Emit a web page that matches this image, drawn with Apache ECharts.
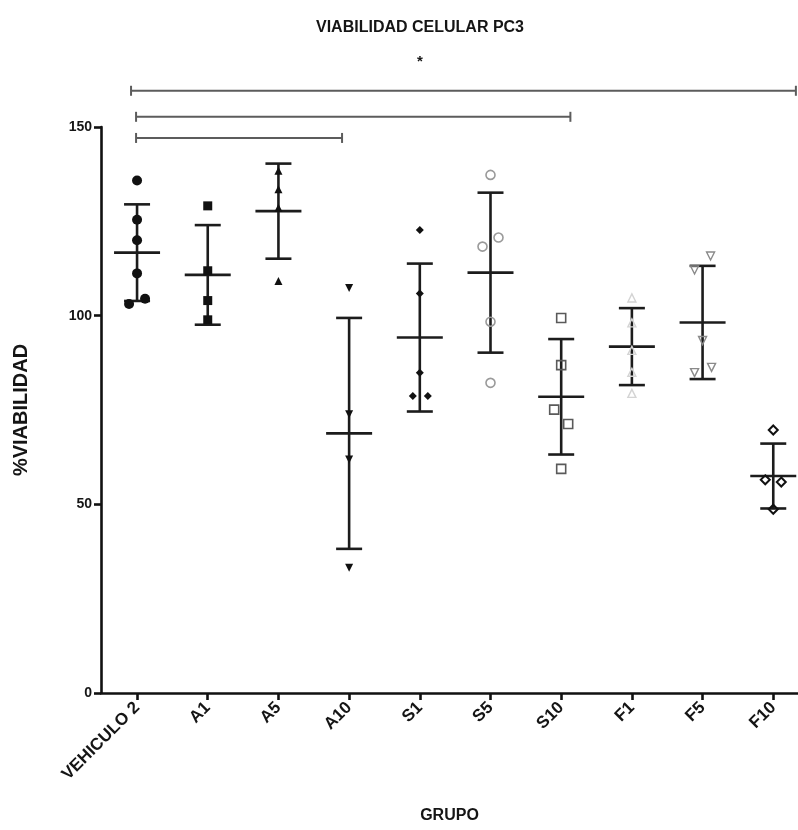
<!DOCTYPE html>
<html>
<head>
<meta charset="utf-8">
<script src="https://cdn.jsdelivr.net/npm/echarts@6/dist/echarts.min.js"></script>
<style>
  html, body { margin: 0; padding: 0; background: #ffffff; }
  #chart { width: 798px; height: 830px; }
</style>
</head>
<body>
<div id="chart"></div>
<script>
// Treatment groups on the x axis
const groups = ['VEHICULO 2', 'A1', 'A5', 'A10', 'S1', 'S5', 'S10', 'F1', 'F5', 'F10'];

// Individual % viability replicates per group
const vehiculo2 = [135.8, 125.4, 120.0, 111.2, 104.5, 103.1];
const a1 = [129.1, 111.9, 104.0, 98.9];
const a5 = [138.4, 133.5, 128.6, 109.2];
const a10 = [107.3, 73.9, 61.9, 33.2];
const s1 = [122.7, 105.9, 84.9, 78.7, 78.7];
const s5 = [137.3, 120.7, 118.3, 98.4, 82.2];
const s10 = [99.4, 86.9, 75.1, 71.3, 59.4];
const f1 = [104.7, 98.1, 90.8, 85.0, 79.4];
const f5 = [115.8, 112.1, 93.4, 86.3, 84.9];
const f10 = [69.7, 56.5, 55.9, 48.7];
const replicates = [vehiculo2, a1, a5, a10, s1, s5, s10, f1, f5, f10];

// Group mean and standard deviation (error bars)
const groupMean = [116.7, 110.8, 127.7, 68.8, 94.2, 111.4, 78.5, 91.8, 98.2, 57.5];
const groupSD = [12.8, 13.2, 12.6, 30.6, 19.6, 21.2, 15.3, 10.2, 15.0, 8.6];

// Y axis ticks
const yTicks = [0, 50, 100, 150];

// Comparison brackets: [from, to, level]
const bracketFrom = [-0.085, -0.014, -0.014];
const bracketTo = [9.32, 6.13, 2.90];
const bracketLevel = [159.6, 152.7, 147.1];
const significanceMark = '*';

// Horizontal nudges (px) so overlapping replicates stay visible
const nudges = [
  [0, 0, 0, 0, 8, -8],
  [0, 0, 0, 0],
  [0, 0, 0, 0],
  [0, 0, 0, 0],
  [0, 0, 0, -7, 8],
  [0, 8, -8, 0, 0],
  [0, 0, -7, 7, 0],
  [0, 0, 0, 0, 0],
  [8, -8, 0, 9, -8],
  [0, -8, 8, 0]
];

// Marker look for each group
const markerStyles = [
  { symbol: 'circle', size: 10, fill: '#111', stroke: '#111', lw: 0 },
  { symbol: 'rect', size: 9, fill: '#111', stroke: '#111', lw: 0 },
  { symbol: 'triangle', size: 8, fill: '#111', stroke: '#111', lw: 0 },
  { symbol: 'triangle', size: 8, fill: '#111', stroke: '#111', lw: 0, rotate: 180 },
  { symbol: 'diamond', size: 8, fill: '#111', stroke: '#111', lw: 0 },
  { symbol: 'circle', size: 9, fill: 'rgba(0,0,0,0)', stroke: '#9a9a9a', lw: 1.6 },
  { symbol: 'rect', size: 9, fill: 'rgba(0,0,0,0)', stroke: '#5a5a5a', lw: 1.6 },
  { symbol: 'triangle', size: 8, fill: 'rgba(0,0,0,0)', stroke: '#d4d4d4', lw: 1.4 },
  { symbol: 'triangle', size: 8, fill: 'rgba(0,0,0,0)', stroke: '#8a8a8a', lw: 1.4, rotate: 180 },
  { symbol: 'diamond', size: 9, fill: 'rgba(0,0,0,0)', stroke: '#111', lw: 2 }
];

const FONT = '"Liberation Sans", Arial, Helvetica, sans-serif';
const INK = '#151515';
const groupIdx = groups.map((g, i) => i);

const chart = echarts.init(document.getElementById('chart'), null, { renderer: 'canvas' });

const scatterSeries = replicates.map((vals, i) => {
  const st = markerStyles[i];
  return {
    type: 'scatter',
    name: groups[i],
    z: 4,
    symbol: st.symbol,
    symbolSize: st.size,
    symbolRotate: st.rotate || 0,
    itemStyle: { color: st.fill, borderColor: st.stroke, borderWidth: st.lw, opacity: 1 },
    emphasis: { disabled: true },
    data: vals.map((v, k) => ({ value: [i, v], symbolOffset: [nudges[i][k] || 0, 0] }))
  };
});

const errorSeries = {
  type: 'custom',
  name: 'media ± DE',
  z: 3,
  data: groupMean.map((m, i) => [i, m, groupSD[i]]),
  renderItem: function (params, api) {
    const x = api.value(0), m = api.value(1), s = api.value(2);
    const pm = api.coord([x, m]);
    const pt = api.coord([x, m + s]);
    const pb = api.coord([x, m - s]);
    const st = { stroke: '#1c1c1c', lineWidth: 2.6 };
    return {
      type: 'group',
      children: [
        { type: 'line', shape: { x1: pt[0], y1: pt[1], x2: pb[0], y2: pb[1] }, style: st },
        { type: 'line', shape: { x1: pt[0] - 13, y1: pt[1], x2: pt[0] + 13, y2: pt[1] }, style: st },
        { type: 'line', shape: { x1: pb[0] - 13, y1: pb[1], x2: pb[0] + 13, y2: pb[1] }, style: st },
        { type: 'line', shape: { x1: pm[0] - 23, y1: pm[1], x2: pm[0] + 23, y2: pm[1] }, style: st }
      ]
    };
  }
};

const bracketSeries = {
  type: 'custom',
  name: 'comparaciones',
  clip: false,
  z: 2,
  data: bracketLevel.map((lv, i) => [bracketFrom[i], bracketTo[i], lv]),
  renderItem: function (params, api) {
    const a = api.coord([api.value(0), api.value(2)]);
    const b = api.coord([api.value(1), api.value(2)]);
    const st = { stroke: '#5c5c5c', lineWidth: 2 };
    return {
      type: 'group',
      children: [
        { type: 'line', shape: { x1: a[0], y1: a[1], x2: b[0], y2: b[1] }, style: st },
        { type: 'line', shape: { x1: a[0], y1: a[1] - 5, x2: a[0], y2: a[1] + 5 }, style: st },
        { type: 'line', shape: { x1: b[0], y1: b[1] - 5, x2: b[0], y2: b[1] + 5 }, style: st }
      ]
    };
  }
};

const starSeries = {
  type: 'custom',
  name: 'significancia',
  clip: false,
  z: 2,
  data: [[4.0, 167.2]],
  renderItem: function (params, api) {
    const p = api.coord([api.value(0), api.value(1)]);
    return {
      type: 'text',
      x: p[0],
      y: p[1],
      style: {
        text: significanceMark,
        font: 'bold 15px ' + FONT,
        fill: INK,
        align: 'center',
        verticalAlign: 'middle'
      }
    };
  }
};

chart.setOption({
  backgroundColor: '#ffffff',
  animation: false,
  grid: { left: 101, right: 0, top: 127, bottom: 137, containLabel: false },
  graphic: [{
    type: 'text',
    x: 420,
    y: 28,
    style: {
      text: 'VIABILIDAD CELULAR PC3',
      font: 'bold 16px ' + FONT,
      fill: INK,
      align: 'center',
      verticalAlign: 'middle'
    }
  }],
  xAxis: {
    type: 'value',
    min: -0.51,
    max: 9.35,
    name: 'GRUPO',
    nameLocation: 'middle',
    nameGap: 115,
    nameTextStyle: { fontFamily: FONT, fontWeight: 'bold', fontSize: 16, color: INK },
    splitLine: { show: false },
    axisLine: { show: true, onZero: false, lineStyle: { color: '#111', width: 2.6 } },
    axisTick: { show: true, customValues: groupIdx, length: 7, lineStyle: { color: '#111', width: 2.6 } },
    axisLabel: {
      customValues: groupIdx,
      rotate: 45,
      margin: 12,
      formatter: function (v) { return groups[Math.round(v)]; },
      fontFamily: FONT,
      fontWeight: 'bold',
      fontSize: 17,
      color: INK
    }
  },
  yAxis: {
    type: 'value',
    min: 0,
    max: 150,
    interval: 50,
    name: '%VIABILIDAD',
    nameLocation: 'middle',
    nameGap: 70,
    nameRotate: 90,
    nameTextStyle: { fontFamily: FONT, fontWeight: 'bold', fontSize: 20, color: INK },
    splitLine: { show: false },
    axisLine: { show: true, onZero: false, lineStyle: { color: '#111', width: 2.6 } },
    axisTick: { show: true, length: 7, lineStyle: { color: '#111', width: 2.6 } },
    axisLabel: {
      customValues: yTicks,
      margin: 9,
      fontFamily: FONT,
      fontWeight: 'bold',
      fontSize: 14,
      color: INK
    }
  },
  series: [bracketSeries, starSeries, errorSeries].concat(scatterSeries)
});
</script>
</body>
</html>
